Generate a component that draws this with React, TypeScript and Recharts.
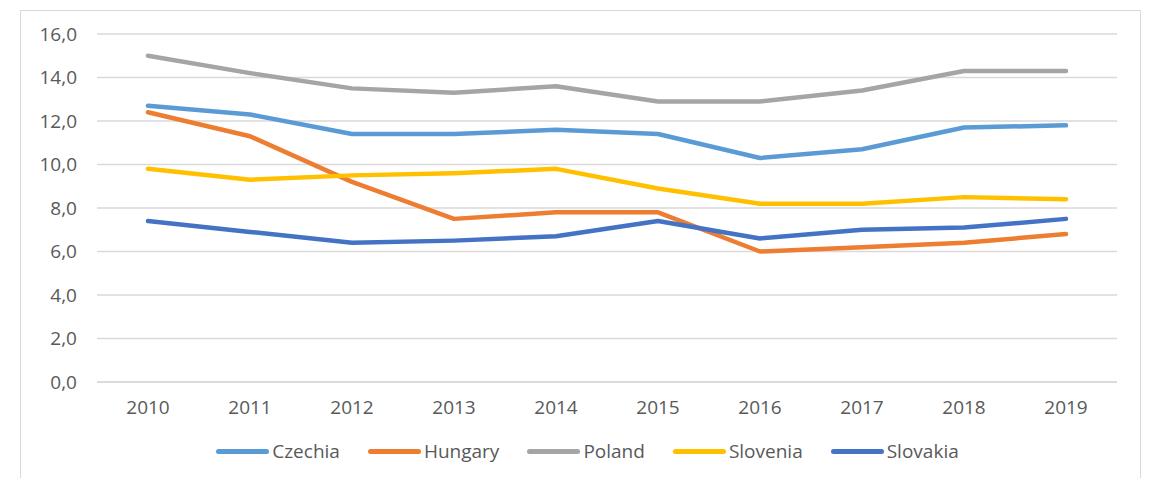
import React from "react";
import {
  LineChart,
  Line,
  XAxis,
  YAxis,
  CartesianGrid,
  Legend
} from "recharts";

const years = ["2010", "2011", "2012", "2013", "2014", "2015", "2016", "2017", "2018", "2019"];

const czechia = [12.7, 12.3, 11.4, 11.4, 11.6, 11.4, 10.3, 10.7, 11.7, 11.8];
const hungary = [12.4, 11.3, 9.2, 7.5, 7.8, 7.8, 6.0, 6.2, 6.4, 6.8];
const poland = [15.0, 14.2, 13.5, 13.3, 13.6, 12.9, 12.9, 13.4, 14.3, 14.3];
const slovenia = [9.8, 9.3, 9.5, 9.6, 9.8, 8.9, 8.2, 8.2, 8.5, 8.4];
const slovakia = [7.4, 6.9, 6.4, 6.5, 6.7, 7.4, 6.6, 7.0, 7.1, 7.5];

const yTicks = [0, 2, 4, 6, 8, 10, 12, 14, 16];

const series = [
  { key: "Czechia", values: czechia, color: "#5B9BD5" },
  { key: "Hungary", values: hungary, color: "#ED7D31" },
  { key: "Poland", values: poland, color: "#A5A5A5" },
  { key: "Slovenia", values: slovenia, color: "#FFC000" },
  { key: "Slovakia", values: slovakia, color: "#4472C4" }
];

const data = years.map((year, i) => {
  const row: Record<string, string | number> = { year };
  series.forEach((s) => {
    row[s.key] = s.values[i];
  });
  return row;
});

const font = "'Open Sans', 'Liberation Sans', sans-serif";
const textColor = "#595959";

function LegendBox() {
  return (
    <div
      style={{
        display: "flex",
        justifyContent: "center",
        alignItems: "center",
        fontFamily: font,
        fontSize: 19,
        color: textColor,
        paddingLeft: 86
      }}
    >
      {series.map((s) => (
        <div key={s.key} style={{ display: "flex", alignItems: "center", marginRight: 28 }}>
          <span
            style={{
              display: "inline-block",
              width: 53,
              height: 5,
              borderRadius: 3,
              background: s.color,
              marginRight: 3
            }}
          />
          <span>{s.key}</span>
        </div>
      ))}
    </div>
  );
}

export default function App() {
  return (
    <div style={{ position: "relative", width: 1150, height: 478, overflow: "hidden", background: "#fff" }}>
      <style>{"body{margin:0}"}</style>
      <div
        style={{
          position: "absolute",
          left: 20,
          top: 10,
          width: 1121,
          height: 500,
          border: "1px solid #d9d9d9",
          boxSizing: "border-box"
        }}
      />
      <div style={{ position: "absolute", left: 0, top: 0 }}>
        <LineChart
          width={1150}
          height={478}
          data={data}
          margin={{ top: 34, right: 33, left: 0, bottom: 8 }}
        >
          <CartesianGrid vertical={false} stroke="#d9d9d9" strokeWidth={1.3} />
          <XAxis
            dataKey="year"
            padding={{ left: 51, right: 51 }}
            axisLine={{ stroke: "#d9d9d9", strokeWidth: 1.3 }}
            tickLine={false}
            tickSize={0}
            tickMargin={19}
            height={56}
            tick={{ fill: textColor, fontSize: 19, fontFamily: font }}
          />
          <YAxis
            width={97}
            domain={[0, 16]}
            ticks={yTicks}
            axisLine={false}
            tickLine={false}
            tickSize={0}
            tickMargin={20}
            tickFormatter={(v: number) => v.toFixed(1).replace(".", ",")}
            tick={{ fill: textColor, fontSize: 19, fontFamily: font }}
          />
          <Legend verticalAlign="bottom" height={32} content={() => <LegendBox />} />
          {series.map((s) => (
            <Line
              key={s.key}
              dataKey={s.key}
              stroke={s.color}
              strokeWidth={4.5}
              strokeLinecap="round"
              strokeLinejoin="round"
              dot={false}
              isAnimationActive={false}
            />
          ))}
        </LineChart>
      </div>
    </div>
  );
}
